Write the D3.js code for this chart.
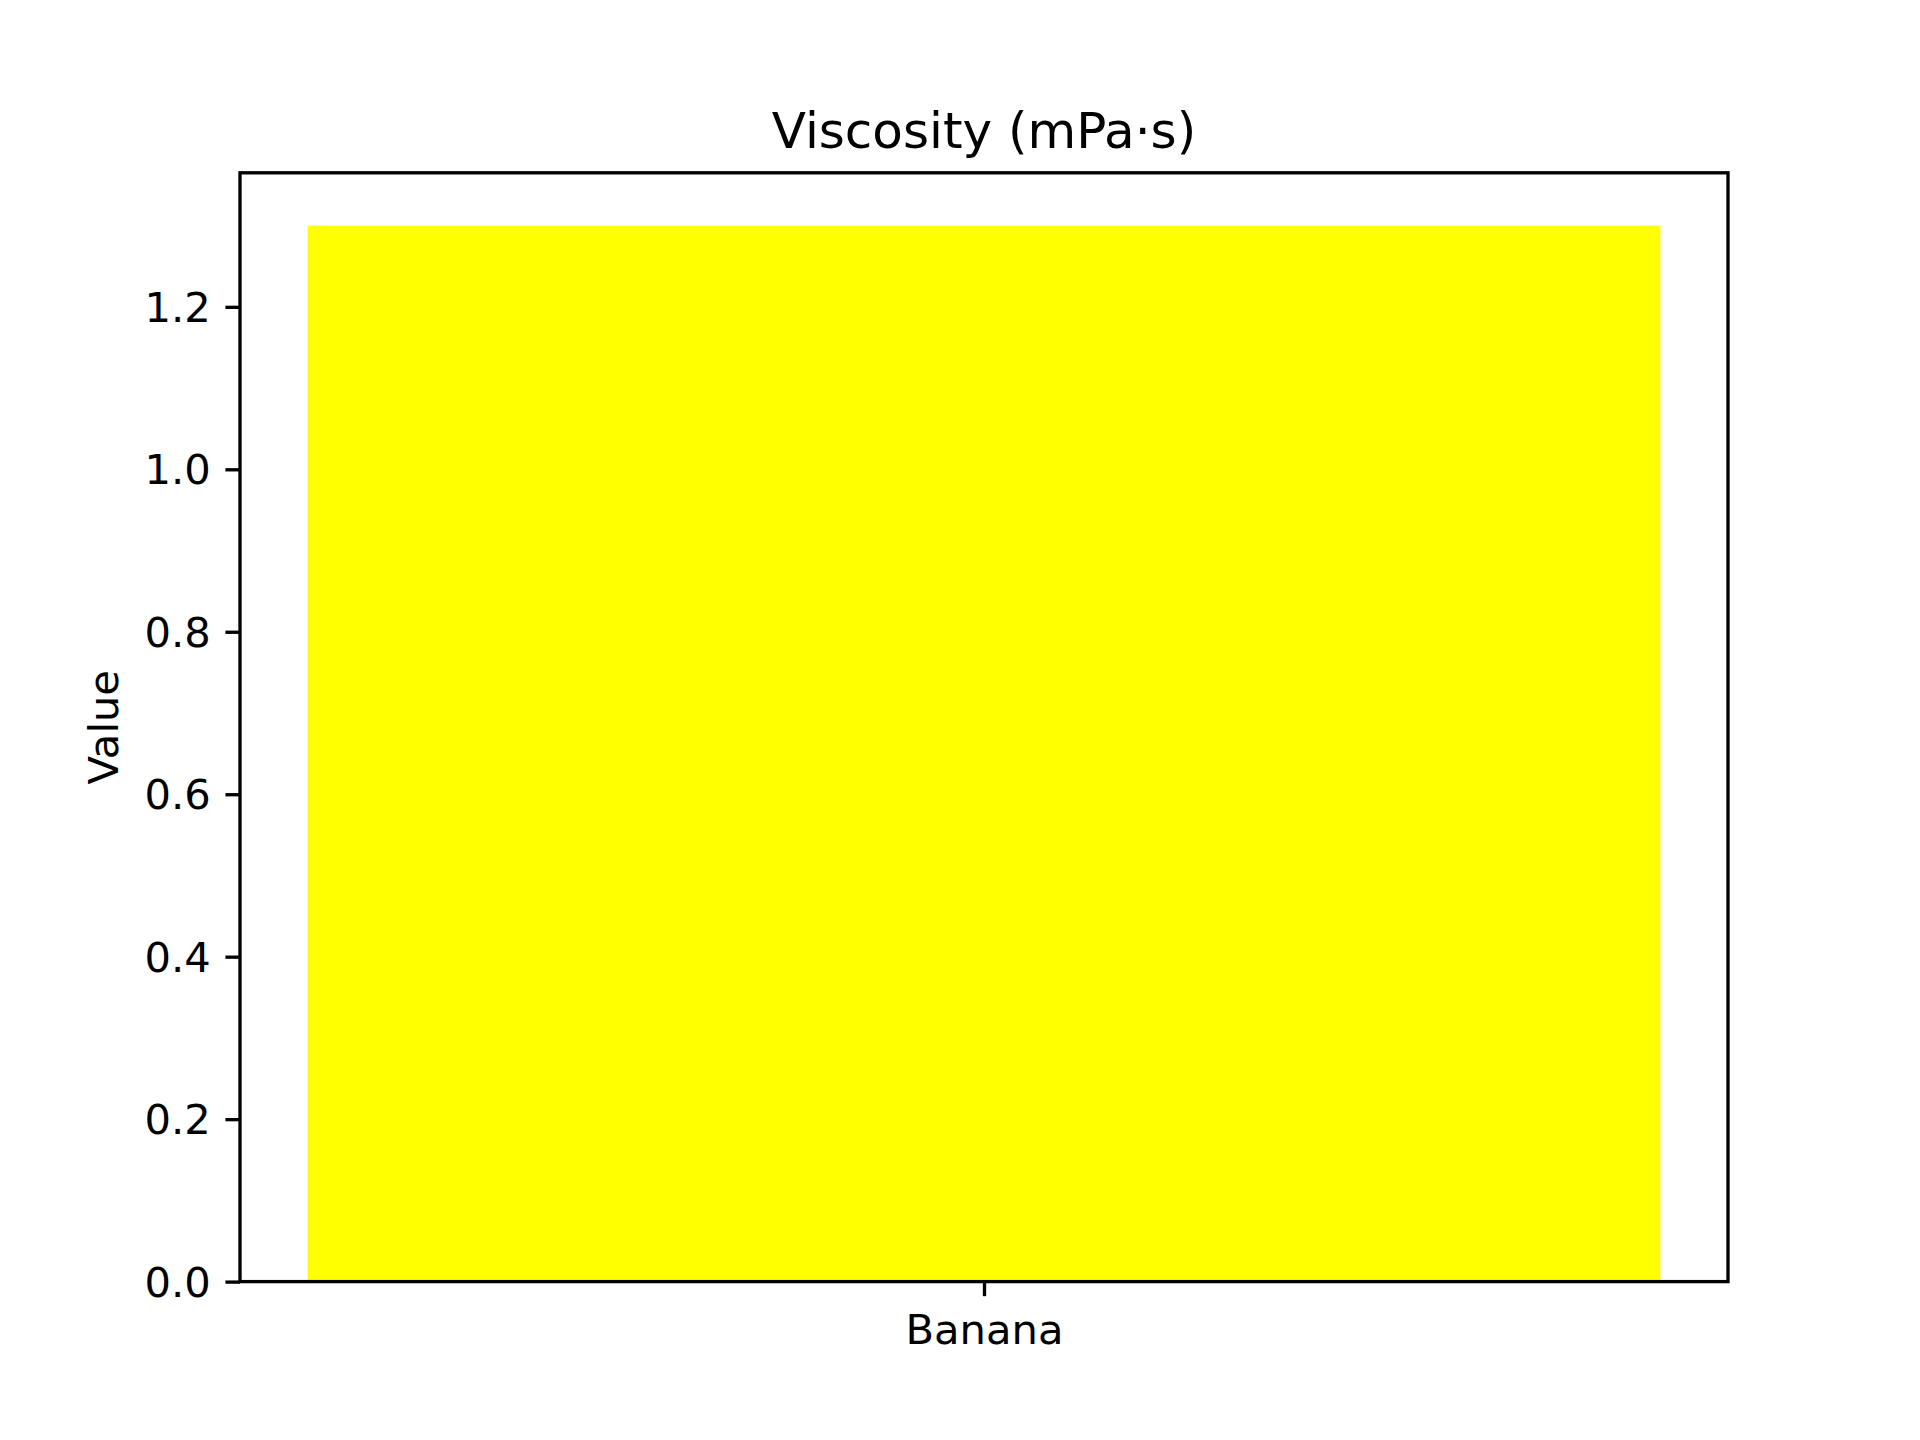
<!DOCTYPE html>
<html><head><meta charset="utf-8">
<script src="https://cdn.jsdelivr.net/npm/d3@7"></script>
<style>body{margin:0;background:#fff}</style>
</head><body>
<script>
const categories = ["Banana"];
const values = [1.3];
const yTicks = [0, 0.2, 0.4, 0.6, 0.8, 1.0, 1.2];
const title = "Viscosity (mPa·s)";
const yLabel = "Value";
const barColor = "#ffff00";

const W = 1920, H = 1440;
const L = 240, R = 1728, T = 172.8, B = 1281.6;
const font = "DejaVu Sans";
const fs = 41.67;
const tickLen = 14.58, pad = 14.58, lw = 3.33;

const svg = d3.select("body").append("svg").attr("width", W).attr("height", H)
  .style("font-family", font);
svg.append("rect").attr("width", W).attr("height", H).attr("fill", "#fff");

const x = d3.scaleLinear().domain([-0.44, 0.44]).range([L, R]);
const y = d3.scaleLinear().domain([0, 1.365]).range([B, T]);

svg.selectAll("rect.bar").data(values).enter().append("rect")
  .attr("class", "bar")
  .attr("x", (d, i) => x(i - 0.4))
  .attr("width", (d, i) => x(i + 0.4) - x(i - 0.4))
  .attr("y", d => y(d))
  .attr("height", d => y(0) - y(d))
  .attr("fill", barColor);

// spines
svg.append("rect").attr("x", L).attr("y", T).attr("width", R - L).attr("height", B - T)
  .attr("fill", "none").attr("stroke", "#000").attr("stroke-width", lw);

// y axis
const yAxis = d3.axisLeft(y).tickValues(yTicks).tickFormat(d3.format(".1f"))
  .tickSize(tickLen).tickPadding(pad);
const gy = svg.append("g").attr("transform", `translate(${L},0)`).call(yAxis);
gy.select(".domain").remove();
gy.selectAll(".tick line").attr("stroke", "#000").attr("stroke-width", lw);
gy.selectAll(".tick text").attr("font-size", fs).attr("font-family", font).attr("fill", "#000")
  .attr("dy", "0.35em");

// x axis
const xAxis = d3.axisBottom(x)
  .tickValues(categories.map((c, i) => i)).tickFormat(i => categories[i])
  .tickSize(tickLen).tickPadding(pad);
const gx = svg.append("g").attr("transform", `translate(0,${B})`).call(xAxis);
gx.select(".domain").remove();
gx.selectAll(".tick line").attr("stroke", "#000").attr("stroke-width", lw);
gx.selectAll(".tick text").attr("font-size", fs).attr("font-family", font).attr("fill", "#000")
  .attr("dy", "0.8em");

// title
svg.append("text").attr("x", (L + R) / 2).attr("y", 148).attr("text-anchor", "middle")
  .attr("font-size", 50).attr("fill", "#000").text(title);

// y label
svg.append("text").attr("transform", `translate(118,${(T + B) / 2}) rotate(-90)`)
  .attr("text-anchor", "middle").attr("font-size", fs).attr("fill", "#000").text(yLabel);
</script>
</body></html>
